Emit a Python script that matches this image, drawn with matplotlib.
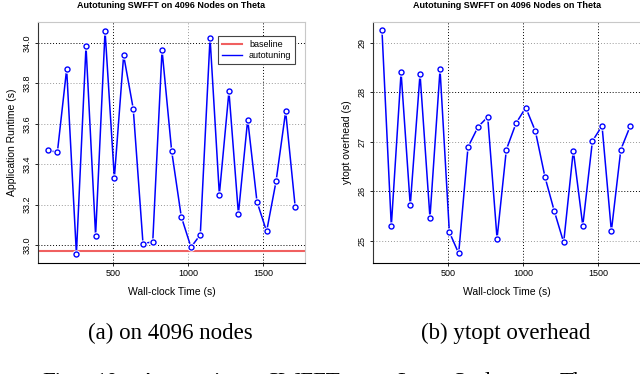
import matplotlib
matplotlib.use("Agg")
import matplotlib.pyplot as plt

# 左図: アプリケーション実行時間
time_a = [65, 129, 191, 256, 320, 384, 447, 509, 571, 635, 700, 765, 827, 891,
          955, 1020, 1082, 1147, 1209, 1273, 1336, 1398, 1460, 1524, 1587, 1651, 1715]
runtime_a = [33.47, 33.458, 33.871, 32.956, 33.984, 33.047, 34.06, 33.332, 33.939,
             33.674, 33.007, 33.016, 33.965, 33.466, 33.141, 32.989, 33.051, 34.026,
             33.25, 33.76, 33.155, 33.621, 33.214, 33.067, 33.315, 33.661, 33.186]
baseline = 32.972

# 右図: ytopt のオーバーヘッド
time_b = [63, 125, 190, 251, 316, 382, 449, 511, 573, 635, 702, 766, 828, 890,
          954, 1019, 1083, 1147, 1209, 1271, 1335, 1398, 1462, 1526, 1588, 1651, 1714]
overhead_b = [29.25, 25.29, 28.40, 25.71, 28.37, 25.46, 28.46, 25.17, 24.74, 26.89,
              27.30, 27.50, 25.04, 26.84, 27.37, 27.69, 27.21, 26.28, 25.59, 24.96,
              26.82, 25.30, 27.01, 27.32, 25.19, 26.84, 27.32]

yticks_a = [33.0, 33.2, 33.4, 33.6, 33.8, 34.0]
yticks_b = [25, 26, 27, 28, 29]
xticks = [500, 1000, 1500]

caption_words = ['Fig.', '10:', 'Autotuning', 'SWFFT', 'on', 'Large', 'Scale', 'on', 'Theta']

W, H = 640, 374
fig = plt.figure(figsize=(W / 100, H / 100), dpi=100)
plt.rcParams['font.family'] = ['Liberation Sans', 'DejaVu Sans']

BLUE = '#0000ff'


def px_axes(x0, x1, y0, y1):
    return fig.add_axes([x0 / W, 1 - y1 / H, (x1 - x0) / W, (y1 - y0) / H])


def style_axes(ax, yticks, dark_y, dark_x, fmt):
    for s in ['top', 'right']:
        ax.spines[s].set_color('#c8c8c8')
        ax.spines[s].set_linewidth(0.8)
    ax.spines['left'].set_color('#333333')
    ax.spines['bottom'].set_color('black')
    ax.set_xticks(xticks)
    ax.set_yticks(yticks)
    ax.set_yticklabels([fmt(v) for v in yticks], rotation=90, va='center')
    ax.tick_params(labelsize=6.5, length=2.5, width=0.6, pad=2)
    for v in yticks:
        c = 'black' if v in dark_y else '#999999'
        ax.axhline(v, color=c, ls=(0, (1, 2)), lw=0.7, zorder=1)
    for v in xticks:
        c = 'black' if v in dark_x else '#999999'
        ax.axvline(v, color=c, ls=(0, (1, 2)), lw=0.7, zorder=1)
    ax.set_xlabel('Wall-clock Time (s)', fontsize=7.5, labelpad=6)


def draw_series(ax, x, y):
    # R の type="b" 風: 点の周りで線を切る
    ax.plot(x, y, color=BLUE, lw=1.1, zorder=3)
    ax.plot(x, y, ls='none', marker='o', ms=6, mfc='white', mec='none', zorder=4)
    ax.plot(x, y, ls='none', marker='o', ms=3.6, mfc='white', mec=BLUE, mew=1.0, zorder=5)


# (a)
ax1 = px_axes(38, 305, 22, 263)
ax1.set_xlim(0, 1780)
ax1.set_ylim(32.911, 34.104)
style_axes(ax1, yticks_a, [33.0, 34.0], [500, 1500], lambda v: f'{v:.1f}')
ax1.axhline(baseline, color='#f06060', lw=1.5, zorder=2, label='baseline')
draw_series(ax1, time_a, runtime_a)
ax1.plot([], [], color=BLUE, lw=1.0, label='autotuning')
h, l = ax1.get_legend_handles_labels()
leg = ax1.legend([h[0], h[-1]], [l[0], l[-1]], loc='upper right', fontsize=6.5,
                 frameon=True, fancybox=False, edgecolor='#444444', framealpha=1,
                 handlelength=2.2, borderpad=0.4, labelspacing=0.3,
                 bbox_to_anchor=(0.98, 0.96))
leg.get_frame().set_linewidth(0.8)
ax1.set_ylabel('Application Runtime (s)', fontsize=7.5, labelpad=4)
ax1.set_title('Autotuning SWFFT on 4096 Nodes on Theta', fontsize=6.5,
              fontweight='bold', pad=10)

# (b)
ax2 = px_axes(372.5, 641, 22, 263)
ax2.set_xlim(0, 1785)
ax2.set_ylim(24.545, 29.42)
style_axes(ax2, yticks_b, [26, 28], [500, 1000, 1500], lambda v: f'{v}')
draw_series(ax2, time_b, overhead_b)
ax2.set_ylabel('ytopt overhead (s)', fontsize=7.5, labelpad=4)
ax2.set_title('Autotuning SWFFT on 4096 Nodes on Theta', fontsize=6.5,
              fontweight='bold', pad=10)

# キャプション
serif = ['Liberation Serif', 'DejaVu Serif']
fig.text(170 / W, 1 - 333 / H, '(a) on 4096 nodes', family=serif, fontsize=16.5,
         ha='center', va='center')
fig.text(506 / W, 1 - 333 / H, '(b) ytopt overhead', family=serif, fontsize=16.5,
         ha='center', va='center')
# 下端で切れている図キャプション（両端揃えの語間）
word_x = [42, 95, 140, 267, 357, 397, 453, 507, 560]
for wx, word in zip(word_x, caption_words):
    fig.text(wx / W, 1 - 372 / H, word, family=serif, fontsize=16.5,
             ha='left', va='top')

fig.savefig('out.png', dpi=100)
